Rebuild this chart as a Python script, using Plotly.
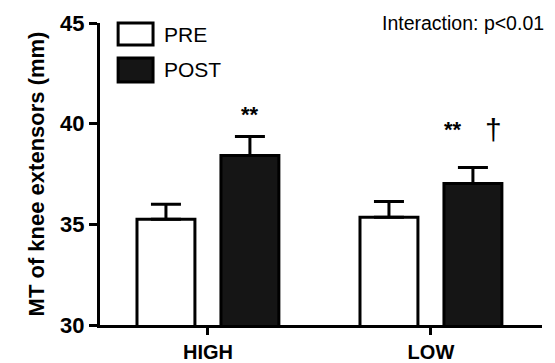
import plotly.graph_objects as go

groups = ["HIGH", "LOW"]
pre_mean = [35.25, 35.35]
pre_err = [0.75, 0.79]
post_mean = [38.42, 37.03]
post_err = [0.94, 0.79]
y_ticks = [30, 35, 40, 45]

FONT = "Liberation Sans, Arial, sans-serif"

fig = go.Figure()
fig.add_trace(go.Bar(
    name="PRE", x=groups, y=pre_mean,
    marker=dict(color="white", line=dict(color="black", width=3)),
    error_y=dict(type="data", array=pre_err, arrayminus=[0, 0], symmetric=False,
                 color="black", thickness=3, width=15),
))
fig.add_trace(go.Bar(
    name="POST", x=groups, y=post_mean,
    marker=dict(color="#151515", line=dict(color="black", width=3)),
    error_y=dict(type="data", array=post_err, arrayminus=[0, 0], symmetric=False,
                 color="black", thickness=3, width=15),
))

fig.update_layout(
    width=555, height=363,
    margin=dict(l=100, r=13, t=23, b=38),
    paper_bgcolor="white", plot_bgcolor="white",
    barmode="group", bargap=0.247, bargroupgap=0.31,
    showlegend=False,
    font=dict(family=FONT, color="black"),
    xaxis=dict(
        range=[-0.484, 1.498], showline=True, linecolor="black", linewidth=3,
        ticks="outside", ticklen=7, tickwidth=3, tickcolor="black",
        tickfont=dict(size=20, family=FONT, weight="bold"),
        showgrid=False, zeroline=False, automargin=False,
    ),
    yaxis=dict(
        range=[30, 45], tickvals=y_ticks, showline=True, linecolor="black", linewidth=3,
        ticks="outside", ticklen=8, tickwidth=3, tickcolor="black",
        tickfont=dict(size=22, family=FONT, weight="bold"),
        showgrid=False, zeroline=False, automargin=False,
        title=dict(text="MT of knee extensors (mm)", standoff=10,
                   font=dict(size=22, family=FONT, weight="bold")),
    ),
)

# legend swatches
fig.add_shape(type="rect", xref="paper", yref="paper", x0=0.041, x1=0.120, y0=0.927, y1=1.0,
              line=dict(color="black", width=3), fillcolor="white")
fig.add_shape(type="rect", xref="paper", yref="paper", x0=0.041, x1=0.120, y0=0.805, y1=0.884,
              line=dict(color="black", width=3), fillcolor="#151515")
fig.add_annotation(xref="paper", yref="paper", x=0.14, y=0.963, text="PRE", showarrow=False,
                   xanchor="left", yanchor="middle", font=dict(size=21, family=FONT))
fig.add_annotation(xref="paper", yref="paper", x=0.14, y=0.845, text="POST", showarrow=False,
                   xanchor="left", yanchor="middle", font=dict(size=21, family=FONT))

fig.add_annotation(xref="paper", yref="paper", x=1.01, y=1.0, text="Interaction: p<0.01",
                   showarrow=False, xanchor="right", yanchor="middle", font=dict(size=19.5, family=FONT))

# significance marks
fig.add_annotation(x=0.188, y=post_mean[0] + post_err[0], yshift=22, text="**", showarrow=False,
                   font=dict(size=22, family=FONT, weight="bold"))
fig.add_annotation(x=1.1, y=post_mean[1] + post_err[1], yshift=38, text="**", showarrow=False,
                   font=dict(size=22, family=FONT, weight="bold"))
fig.add_annotation(x=1.28, y=post_mean[1] + post_err[1], yshift=38, text="†", showarrow=False,
                   font=dict(size=30, family=FONT))

fig.write_html("out.html")
